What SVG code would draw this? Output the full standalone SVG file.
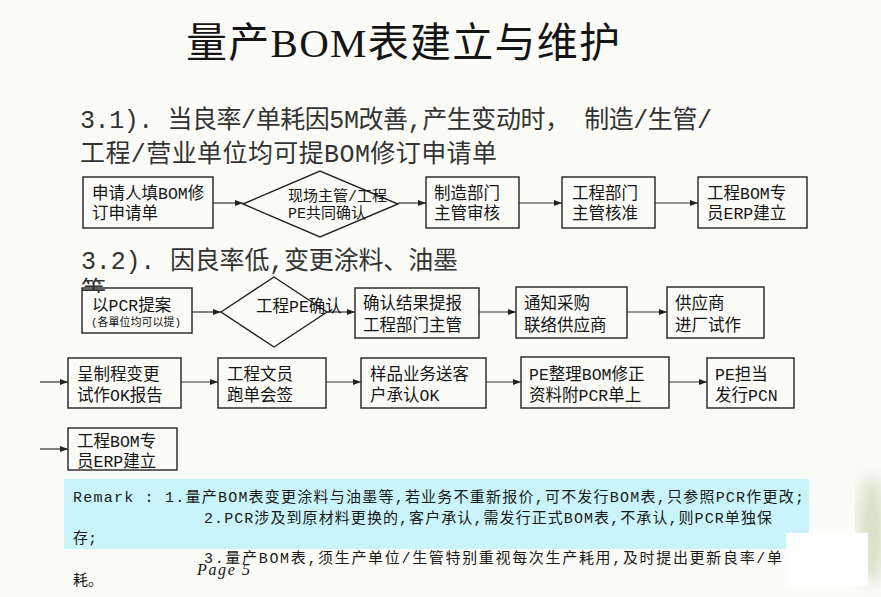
<svg xmlns="http://www.w3.org/2000/svg" width="881" height="597" viewBox="0 0 881 597">
<defs>
<style>
.t{font-family:"Liberation Mono","Noto Sans CJK SC",monospace;fill:#151515}
.s{font-family:"Liberation Serif","Noto Sans CJK SC",serif}
.b{font-size:16.5px}
.h{font-size:25px;fill:#333}
.r{font-size:15px;fill:#1a1a1a}
.box{fill:none;stroke:#222;stroke-width:1.4}
.c{stroke:#333;stroke-width:1.2;fill:none;marker-end:url(#ah)}
</style>
<marker id="ah" markerUnits="userSpaceOnUse" markerWidth="9" markerHeight="7" refX="8" refY="3" orient="auto"><path d="M0,0 L8,3 L0,6 z" fill="#222"/></marker>
<clipPath id="cl"><rect x="0" y="0" width="881" height="293"/></clipPath>
<filter id="bl"><feGaussianBlur stdDeviation="8"/></filter>
</defs>
<rect width="881" height="597" fill="#fbfcf8"/>
<ellipse cx="872" cy="530" rx="14" ry="55" fill="#b9c99e" opacity="0.55" filter="url(#bl)"/>

<text class="t s" x="186" y="57" font-size="41" textLength="434" fill="#1a1a1a">量产BOM表建立与维护</text>
<text class="t h" x="80" y="128" textLength="632">3.1). 当良率/单耗因5M改善,产生变动时， 制造/生管/</text>
<text class="t h" x="80" y="162" textLength="417">工程/营业单位均可提BOM修订申请单</text>
<text class="t h" x="81" y="269" textLength="377">3.2). 因良率低,变更涂料、油墨</text>
<text class="t h" x="81" y="299" clip-path="url(#cl)">等</text>

<g id="connectors">
<line class="c" x1="213" y1="203" x2="243" y2="203"/>
<line class="c" x1="398" y1="203" x2="426" y2="203"/>
<line class="c" x1="519" y1="203" x2="562" y2="203"/>
<line class="c" x1="655" y1="203" x2="698" y2="203"/>
<line class="c" x1="192" y1="312" x2="221" y2="312"/>
<line class="c" x1="327" y1="312" x2="355" y2="312"/>
<line class="c" x1="479" y1="312" x2="516" y2="312"/>
<line class="c" x1="627" y1="312" x2="667" y2="312"/>
<line class="c" x1="40" y1="382" x2="68" y2="382"/>
<line class="c" x1="181" y1="382" x2="218" y2="382"/>
<line class="c" x1="326" y1="382" x2="361" y2="382"/>
<line class="c" x1="486" y1="382" x2="521" y2="382"/>
<line class="c" x1="669" y1="382" x2="707" y2="382"/>
<line class="c" x1="40" y1="449" x2="68" y2="449"/>
</g>

<g id="n1"><rect class="box" x="83" y="177" width="130" height="51"/>
<text class="t b" x="92" y="199">申请人填BOM修</text><text class="t b" x="92" y="219">订申请单</text></g>
<g id="n2"><polygon class="box" points="243,204 320,171 398,204 320,237"/>
<text class="t" font-size="15" x="288" y="201">现场主管/工程</text><text class="t" font-size="15" x="288" y="218">PE共同确认</text></g>
<g id="n3"><rect class="box" x="426" y="177" width="93" height="51"/>
<text class="t b" x="434" y="199">制造部门</text><text class="t b" x="434" y="219">主管审核</text></g>
<g id="n4"><rect class="box" x="562" y="177" width="93" height="51"/>
<text class="t b" x="572" y="199">工程部门</text><text class="t b" x="572" y="219">主管核准</text></g>
<g id="n5"><rect class="box" x="698" y="177" width="109" height="51"/>
<text class="t b" x="707" y="199">工程BOM专</text><text class="t b" x="707" y="219">员ERP建立</text></g>

<g id="n6"><rect class="box" x="82" y="288" width="110" height="45"/>
<text class="t b" x="92" y="311">以PCR提案</text><text class="t" font-size="11" x="91" y="326" fill="#444">(各單位均可以提)</text></g>
<g id="n7"><polygon class="box" points="221,312 274,277 327,312 274,347"/>
<text class="t b" x="256" y="312">工程PE确认</text></g>
<g id="n8"><rect class="box" x="355" y="288" width="124" height="50"/>
<text class="t b" x="363" y="309">确认结果提报</text><text class="t b" x="363" y="331">工程部门主管</text></g>
<g id="n9"><rect class="box" x="516" y="287" width="111" height="51"/>
<text class="t b" x="524" y="309">通知采购</text><text class="t b" x="524" y="331">联络供应商</text></g>
<g id="n10"><rect class="box" x="667" y="287" width="97" height="51"/>
<text class="t b" x="675" y="309">供应商</text><text class="t b" x="675" y="331">进厂试作</text></g>

<g id="n11"><rect class="box" x="68" y="358" width="113" height="50"/>
<text class="t b" x="77" y="380">呈制程变更</text><text class="t b" x="77" y="401">试作OK报告</text></g>
<g id="n12"><rect class="box" x="218" y="358" width="108" height="50"/>
<text class="t b" x="227" y="380">工程文员</text><text class="t b" x="227" y="401">跑单会签</text></g>
<g id="n13"><rect class="box" x="361" y="358" width="125" height="50"/>
<text class="t b" x="370" y="380">样品业务送客</text><text class="t b" x="370" y="401">户承认OK</text></g>
<g id="n14"><rect class="box" x="521" y="357" width="148" height="51"/>
<text class="t b" x="529" y="380">PE整理BOM修正</text><text class="t b" x="529" y="401">资料附PCR单上</text></g>
<g id="n15"><rect class="box" x="707" y="358" width="87" height="50"/>
<text class="t b" x="715" y="380">PE担当</text><text class="t b" x="715" y="401">发行PCN</text></g>

<g id="n16"><rect class="box" x="68" y="428" width="109" height="42"/>
<text class="t b" x="77" y="447">工程BOM专</text><text class="t b" x="77" y="467">员ERP建立</text></g>

<g id="remark">
<rect x="64" y="479" width="745" height="70" fill="#c9f4f9"/>
<text class="t r" x="73" y="502" textLength="731">Remark : 1.量产BOM表变更涂料与油墨等,若业务不重新报价,可不发行BOM表,只参照PCR作更改;</text>
<text class="t r" x="204" y="523" textLength="568">2.PCR涉及到原材料更换的,客户承认,需发行正式BOM表,不承认,则PCR单独保</text>
<text class="t r" x="73" y="543">存;</text>
<text class="t r" x="204" y="563" textLength="578">3.量产BOM表,须生产单位/生管特别重视每次生产耗用,及时提出更新良率/单</text>
<rect x="786" y="533" width="82" height="54" fill="#ffffff"/>
<text class="t r" x="73" y="585">耗。</text>
<text class="t s" x="197" y="575" font-size="16" font-style="italic" textLength="53" fill="#333">Page 5</text>
</g>
</svg>
